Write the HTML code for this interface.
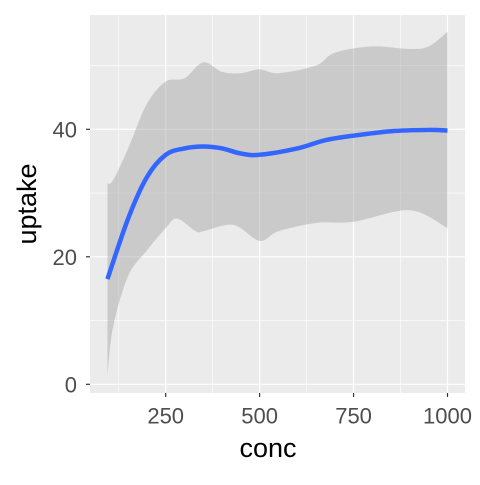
<!DOCTYPE html>
<html><head><meta charset="utf-8"><style>
body{margin:0;background:#fff}
text{font-family:"Liberation Sans",sans-serif}
</style></head><body>
<svg id="chart" width="480" height="480" xmlns="http://www.w3.org/2000/svg">
<rect x="0" y="0" width="480" height="480" fill="#fff"/>
<rect x="90" y="15" width="375" height="378" fill="#ebebeb"/>
<g id="grid"></g>
<g id="marks"></g>
<g id="axes"></g>
<text x="268" y="457" text-anchor="middle" font-size="27" fill="#000">conc</text>
<text transform="translate(36,204) rotate(-90)" text-anchor="middle" font-size="27" fill="#000">uptake</text>
</svg>
<script>
const concX = [95,150,200,250,300,350,400,450,500,600,675,750,850,950,1000];
const fitY = [16.5,26,32.5,36,37,37.3,37,36.2,36,37,38.3,39,39.7,39.9,39.8];
const upperX = [95,110,150,200,250,300,350,400,450,500,550,650,700,800,900,950,1000];
const upperY = [31.5,32,37,44,47.5,48,50.5,49,48.8,49.4,48.8,50,52,53,52.6,53,55.3];
const lowerX = [95,110,150,200,250,280,330,350,430,500,550,650,750,900,1000];
const lowerY = [1.5,9,17,21,24.5,26,24,24,25,22.5,24,25.3,25.5,27.3,24.5];
const xTicks = [250,500,750,1000];
const xMinor = [125,375,625,875];
const yTicks = [0,20,40];
const yMinor = [10,30,50];
const NS="http://www.w3.org/2000/svg";
const X=v=>165.7+(v-250)*0.37573;
const Y=v=>384.3-v*6.375;
function mk(tag,attrs,parent){const e=document.createElementNS(NS,tag);for(const k in attrs)e.setAttribute(k,attrs[k]);parent.appendChild(e);return e;}
function smooth(pts){let d=`M${pts[0][0]},${pts[0][1]}`;for(let i=0;i<pts.length-1;i++){const p0=pts[i-1]||pts[i],p1=pts[i],p2=pts[i+1],p3=pts[i+2]||p2;const c1=[p1[0]+(p2[0]-p0[0])/6,p1[1]+(p2[1]-p0[1])/6],c2=[p2[0]-(p3[0]-p1[0])/6,p2[1]-(p3[1]-p1[1])/6];d+=`C${c1[0]},${c1[1]} ${c2[0]},${c2[1]} ${p2[0]},${p2[1]}`;}return d;}
const grid=document.getElementById('grid'),marks=document.getElementById('marks'),axes=document.getElementById('axes');
xMinor.forEach(v=>{const l=mk('line',{x1:X(v),x2:X(v),y1:15,y2:393,stroke:'#fff','stroke-width':0.6},grid);

});
yMinor.forEach(v=>{const l=mk('line',{x1:90,x2:465,y1:Y(v),y2:Y(v),stroke:'#fff','stroke-width':0.6},grid);

});
xTicks.forEach(v=>{const l=mk('line',{x1:X(v),x2:X(v),y1:15,y2:393,stroke:'#fff','stroke-width':1.2},grid);


const t=mk('line',{x1:X(v),x2:X(v),y1:393,y2:397,stroke:'#333','stroke-width':1.2},axes);


const tx=mk('text',{x:X(v),y:423.5,'text-anchor':'middle','font-size':22,fill:'#4d4d4d'},axes);tx.textContent=v;

});
yTicks.forEach(v=>{const l=mk('line',{x1:90,x2:465,y1:Y(v),y2:Y(v),stroke:'#fff','stroke-width':1.2},grid);


const t=mk('line',{x1:86,x2:90,y1:Y(v),y2:Y(v),stroke:'#333','stroke-width':1.2},axes);


const tx=mk('text',{x:77,y:Y(v)+8,'text-anchor':'end','font-size':22,fill:'#4d4d4d'},axes);tx.textContent=v;

});
const up=upperX.map((v,i)=>[X(v),Y(upperY[i])]);
const lo=lowerX.map((v,i)=>[X(v),Y(lowerY[i])]).reverse();
const band=mk('path',{d:smooth(up)+smooth(lo).replace('M','L')+'Z',fill:'#999','fill-opacity':0.4},marks);


const line=mk('path',{d:smooth(concX.map((v,i)=>[X(v),Y(fitY[i])])),fill:'none',stroke:'#3366ff','stroke-width':4.5},marks);


</script>
</body></html>
